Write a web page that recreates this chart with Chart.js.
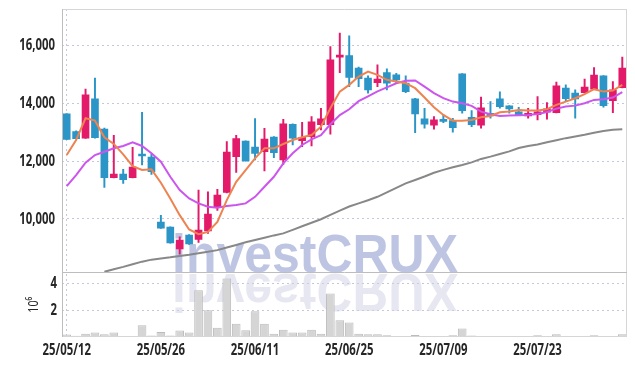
<!DOCTYPE html>
<html><head><meta charset="utf-8">
<script src="https://cdn.jsdelivr.net/npm/chart.js@4.4.1/dist/chart.umd.min.js"></script>
<style>html,body{margin:0;padding:0;background:#fff}#wrap{width:635px;height:366px;position:relative}</style>
</head><body><div id="wrap"><canvas id="c" width="635" height="366"></canvas></div>
<script>
const labels = ["25/05/12","25/05/13","25/05/14","25/05/15","25/05/16","25/05/19","25/05/20","25/05/21","25/05/22","25/05/23",
"25/05/26","25/05/27","25/05/28","25/05/29","25/05/30","25/06/02","25/06/04","25/06/05","25/06/09","25/06/10",
"25/06/11","25/06/12","25/06/13","25/06/16","25/06/17","25/06/18","25/06/19","25/06/20","25/06/23","25/06/24",
"25/06/25","25/06/26","25/06/27","25/06/30","25/07/01","25/07/02","25/07/03","25/07/04","25/07/07","25/07/08",
"25/07/09","25/07/10","25/07/11","25/07/14","25/07/15","25/07/16","25/07/17","25/07/18","25/07/21","25/07/22",
"25/07/23","25/07/24","25/07/25","25/07/28","25/07/29","25/07/30","25/07/31","25/08/01","25/08/04","25/08/05"];
const opens  = [13640,13024,12795,14160,13118,11427,11556,11427,12205,12146, 9889,9716,8962,9438,9288,9587,10420,10920,12157,12702,
12493,12330,12840,12042,13281,12712,12851,13268,13268,15610, 15663,15226,14878,14726,15073,14993,14705,14160,13465,13247,
13431,13406,15028,13524,13247,13663,14160,13917,13708,13570, 13615,13698,13684,14531,14358,14379,14497,14958,14101,14552];
const highs  = [13650,13050,14497,14879,13150,12899,11719,12483,13698,12250, 10122,9730,9379,9460,11000,10941,11024,12677,12899,12710,
13476,13142,12850,13455,13300,13351,13545,13837,15976,16441, 16347,15260,14958,15340,15201,15050,14958,14180,13837,13545,
13604,13490,15040,13754,14219,14066,14403,13930,13872,13837, 14240,14031,14740,14646,14472,14843,15247,14970,14760,15608];
const lows   = [12750,12770,12790,12800,11094,11420,11233,11420,11868,11545, 9670,9160,8778,9120,9184,9497,10295,10900,11615,12000,
12042,11660,12122,11893,12563,12504,12528,13083,12934,15073, 14587,14587,14357,14587,14472,14705,14380,12990,13142,13108,
13340,13004,13663,13198,13142,13490,13837,13663,13590,13490, 13431,13455,13670,14066,13490,14370,14490,13872,13684,14540];
const closes = [12760,12781,14299,12816,11427,11556,11358,11799,12180,11636, 9681,9171,9264,9136,9611,10167,10827,12320,12781,12007,
12272,12771,12295,13292,12795,12830,13361,13465,15514,15660, 14900,14865,14472,14843,14705,14820,14413,13639,13281,13431,
13380,13160,13754,13268,13847,13570,13893,13813,13604,13663, 13708,13813,14611,14170,14160,14566,14983,13927,14472,15226];
const volumes = [0.18,0.10,0.25,0.33,0.20,0.33,0.05,0.05,0.88,0.12, 0.38,0.12,0.48,0.33,3.50,2.00,0.70,4.38,1.00,0.50,
1.93,1.00,0.25,0.55,0.33,0.33,0.55,0.25,3.25,1.25, 1.08,0.25,0.20,0.20,0.13,0.08,0.08,0.15,0.05,0.05,
0.05,0.13,0.63,0.12,0.05,0.05,0.04,0.03,0.05,0.05, 0.13,0.05,0.20,0.05,0.08,0.05,0.13,0.08,0.08,0.20];
const ma5 = [12216,12736,13490,13406,12830,12600,12240,11830,11695,11719, 11254,10712,10132,9636,9473,9553,9900,10653,11289,11695,
12100,12448,12448,12597,12736,12830,12910,13198,13837,14413, 14646,14934,15108,14993,14820,14760,14705,14531,14210,13872,
13604,13406,13406,13430,13524,13570,13698,13720,13778,13754, 13754,13802,13951,14066,14184,14323,14497,14413,14448,14646];
const ma20 = [11139,11521,11949,12215,12330,12448,12528,12656,12528,12274, 11983,11462,11000,10712,10538,10421,10386,10445,10480,10538,
10767,11115,11462,11927,12274,12563,12760,12900,13280,13600, 13800,14080,14250,14420,14560,14700,14785,14800,14587,14358,
14184,14066,14010,13917,13720,13629,13570,13581,13593,13604, 13639,13708,13823,13893,13927,14010,14125,14149,14205,14392];
const ma60 = [null,null,null,null,8170,8260,8340,8430,8520,8590, 8630,8670,8720,8760,8810,8860,8920,9010,9100,9190,
9270,9350,9430,9500,9620,9745,9870,9990,10140,10290, 10430,10540,10650,10768,10920,11080,11233,11350,11470,11600,
11700,11790,11870,11960,12080,12160,12250,12340,12460,12530, 12580,12660,12730,12800,12860,12920,12990,13050,13090,13110];
const priceTicks = [10000,12000,14000,16000];
const volTicks = [2,4];

const F = "'Noto Sans','Liberation Sans',sans-serif";
const SX = 0.71;
const RED = '#e3196a', BLUE = '#2a95c6';
const gridC = '#c3c8dc';
const candleColors = opens.map((o,i)=> closes[i] >= o ? RED : BLUE);

const canvas = document.getElementById('c');
const c2d = canvas.getContext('2d');
const rawFill = CanvasRenderingContext2D.prototype.fillText;
// condensed rendering of the axis texts (horizontal squeeze around the anchor)
c2d.fillText = function(t, x, y, mw){
  this.save(); this.scale(SX, 1);
  if (mw === undefined) rawFill.call(this, t, x / SX, y); else rawFill.call(this, t, x / SX, y, mw / SX);
  this.restore();
};

const watermark = {
  id:'wm',
  beforeDatasetsDraw(chart){
    const {ctx, scales} = chart;
    const base = scales.v.top;
    const txt = 'investCRUX';
    ctx.save();
    ctx.font = "bold 53px 'Liberation Sans','Arial',sans-serif";
    const w = ctx.measureText(txt).width;
    ctx.translate(172, base);
    ctx.scale(286 / w, 1);
    ctx.textBaseline = 'alphabetic';
    ctx.fillStyle = 'rgba(178,187,221,0.85)';
    rawFill.call(ctx, txt, 0, 0);
    ctx.scale(1, -1);
    ctx.fillStyle = 'rgba(205,208,228,0.5)';
    rawFill.call(ctx, txt, 0, -2);
    ctx.restore();
  }
};
const frame = {
  id:'frame',
  afterDraw(chart){
    const {ctx, chartArea:a, scales} = chart;
    ctx.save();
    ctx.lineWidth = 1;
    ctx.strokeStyle = '#d6d6d6';
    ctx.beginPath();
    ctx.moveTo(a.left, Math.round(a.top)+0.5); ctx.lineTo(a.right, Math.round(a.top)+0.5);
    ctx.moveTo(Math.round(a.right)-0.5, a.top); ctx.lineTo(Math.round(a.right)-0.5, a.bottom);
    ctx.moveTo(a.left, Math.round(a.bottom)-0.5); ctx.lineTo(a.right, Math.round(a.bottom)-0.5);
    ctx.stroke();
    ctx.strokeStyle = '#bdbdbd';
    ctx.beginPath();
    ctx.moveTo(Math.round(a.left)+0.5, a.top); ctx.lineTo(Math.round(a.left)+0.5, a.bottom);
    ctx.moveTo(a.left, Math.round(scales.v.top)+0.5); ctx.lineTo(a.right, Math.round(scales.v.top)+0.5);
    ctx.stroke();
    ctx.restore();
  }
};
const vFit = s => { s.width = 62; s.paddingTop = 0; s.paddingBottom = 0; };

new Chart(canvas, {
  data: {
    labels,
    datasets: [
      {type:'line', label:'MA5', data:ma5, yAxisID:'y', borderColor:'#ee8350', borderWidth:2, pointRadius:0, order:1},
      {type:'line', label:'MA20', data:ma20, yAxisID:'y', borderColor:'#cc55ee', borderWidth:2, pointRadius:0, order:1},
      {type:'line', label:'MA60', data:ma60, yAxisID:'y', borderColor:'#888888', borderWidth:2, pointRadius:0, order:1},
      {type:'bar', label:'body', data:opens.map((o,i)=>[o,closes[i]]), yAxisID:'y', backgroundColor:candleColors, barThickness:7, minBarLength:2, grouped:false, order:2},
      {type:'bar', label:'wick', data:lows.map((l,i)=>[l,highs[i]]), yAxisID:'y', backgroundColor:candleColors, barThickness:1.3, grouped:false, order:3},
      {type:'bar', label:'volume', data:volumes, yAxisID:'v', backgroundColor:'#d5d5d5', borderColor:'#bcbcbc', borderWidth:1, barPercentage:0.92, categoryPercentage:1, grouped:false, order:4}
    ]
  },
  options: {
    responsive:false, animation:false, devicePixelRatio:1,
    layout:{padding:{left:0,right:8,top:9,bottom:0}},
    plugins:{legend:{display:false}, tooltip:{enabled:false}},
    scales:{
      x:{
        type:'category', offset:true,
        afterFit:s => { s.height = 29; s.paddingLeft = 0; s.paddingRight = 0; },
        grid:{color:c => (c.index % 10 === 0 ? gridC : 'rgba(0,0,0,0)'), drawTicks:false, offset:false, lineWidth:1},
        border:{display:false, dash:[2,3]},
        ticks:{autoSkip:false, maxRotation:0, padding:4, color:'#262626', font:{family:F, size:16, weight:'bold'},
          callback:(v,i)=> (i % 10 === 0 ? labels[i] : null)}
      },
      v:{
        type:'linear', position:'left', stack:'main', stackWeight:64.4, min:0, max:4.83,
        afterBuildTicks:s => { s.ticks = volTicks.map(v=>({value:v})); },
        afterFit:vFit,
        title:{display:true, text:'10⁶', color:'#262626', font:{family:F, size:15}, padding:{top:25,bottom:0}},
        grid:{color:gridC, drawTicks:false}, border:{display:false, dash:[2,3]},
        ticks:{padding:5, color:'#262626', font:{family:F, size:16, weight:'bold'}, callback:v => String(v)}
      },
      y:{
        type:'linear', position:'left', stack:'main', stackWeight:263, min:8145, max:17275,
        afterBuildTicks:s => { s.ticks = priceTicks.map(v=>({value:v})); },
        afterFit:vFit,
        grid:{color:gridC, drawTicks:false}, border:{display:false, dash:[2,3]},
        ticks:{padding:7, color:'#262626', font:{family:F, size:16, weight:'bold'}, callback:v => Number(v).toLocaleString('en-US')}
      }
    }
  },
  plugins:[watermark, frame]
});
</script>
</body></html>
